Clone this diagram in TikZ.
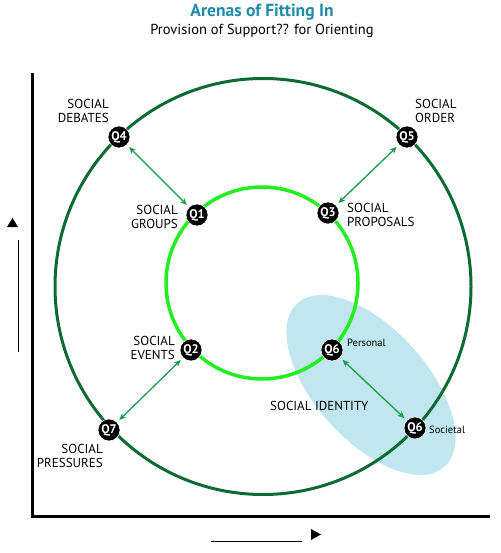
\documentclass[tikz,border=0pt]{standalone}
\usepackage{fontspec}
\setmainfont{PT Sans}
\usepackage{xcolor}
\usetikzlibrary{arrows.meta}
\definecolor{darkring}{HTML}{0B6B33}
\definecolor{lightring}{HTML}{22EE22}
\definecolor{arrowgreen}{HTML}{1A9E4A}
\definecolor{identityblue}{HTML}{C0E6F0}
\definecolor{titleblue}{HTML}{1F8AAA}

\begin{document}
\begin{tikzpicture}[x=1pt,y=-1pt,
	qnode/.style={circle,fill=black,draw=white,line width=0.6pt,minimum size=22pt,inner sep=0pt,text=white,font=\bfseries\fontsize{12.5}{12.5}\selectfont},
	lab/.style={inner sep=0pt,font=\fontsize{13}{13.5}\selectfont},
	small/.style={inner sep=0pt,font=\fontsize{10.5}{11}\selectfont},
	link/.style={arrowgreen,line width=1.3pt,{Stealth[length=7pt,width=6pt]}-{Stealth[length=7pt,width=6pt]},shorten <=3pt,shorten >=3pt}]
	\useasboundingbox (0,0) rectangle (500,553);
	\node[font=\bfseries\fontsize{17.5}{17.5}\selectfont,text=titleblue] (title) at (262,12) {Arenas of Fitting In};
	\node[font=\fontsize{14.5}{14.5}\selectfont] (subtitle) at (262,31) {Provision of Support?? for Orienting};
	\fill[identityblue,rotate around={-48:(371,385)}] (371,385) ellipse [x radius=110pt,y radius=56pt];
	\draw[line width=3pt] (32,73)--(32,516)--(490,516);
	\fill[black] (7,227)--(18,227)--(12.5,218)--cycle;
	\draw[line width=0.8pt] (18.3,240)--(18.3,352);
	\fill[black] (311,529)--(311,540)--(321,534.5)--cycle;
	\draw[line width=0.8pt] (211,541)--(302,541);
	\draw[darkring,line width=3pt] (263,286.5) circle [radius=208pt];
	\draw[lightring,line width=3.5pt] (262,283) circle [radius=96pt];
	\node[qnode] (q4) at (119,137) {Q4};
	\node[qnode] (q5) at (407,137) {Q5};
	\node[qnode] (q1) at (197,215) {Q1};
	\node[qnode] (q3) at (328,213) {Q3};
	\node[qnode] (q2) at (191,350) {Q2};
	\node[qnode] (q7) at (109,430) {Q7};
	\node[qnode] (q6p) at (332,350) {Q6};
	\node[qnode] (q6s) at (415,428) {Q6};
	\draw[link] (q4)--(q1);
	\draw[link] (q5)--(q3);
	\draw[link] (q2)--(q7);
	\draw[link] (q6p)--(q6s);
	\node[lab,anchor=east,align=right] (debates) at (109,111) {SOCIAL\\DEBATES};
	\node[lab,anchor=west,align=left] (order) at (415,111) {SOCIAL\\ORDER};
	\node[lab,anchor=east,align=right] (groups) at (178,217) {SOCIAL\\GROUPS};
	\node[lab,anchor=west,align=left] (proposals) at (347,215) {SOCIAL\\PROPOSALS};
	\node[lab,anchor=east,align=right] (events) at (175,348) {SOCIAL\\EVENTS};
	\node[lab,anchor=east,align=right] (pressures) at (103,456) {SOCIAL\\PRESSURES};
	\node[lab,anchor=west] (identity) at (270,406) {SOCIAL IDENTITY};
	\node[small,anchor=west] (personal) at (347,343) {Personal};
	\node[small,anchor=west] (societal) at (429,430) {Societal};
\end{tikzpicture}
\end{document}
